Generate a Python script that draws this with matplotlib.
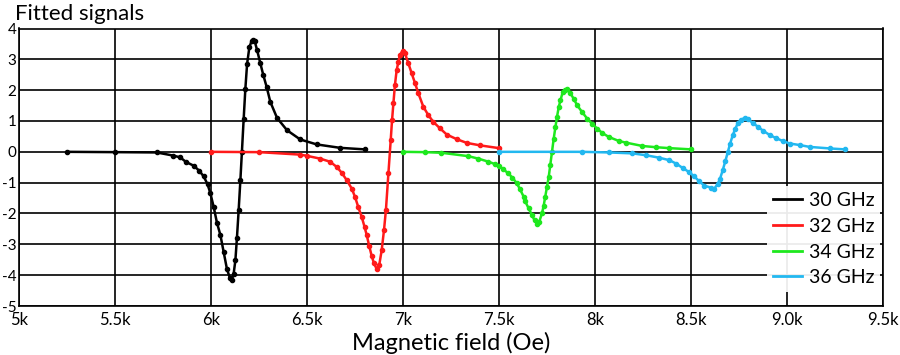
import matplotlib
matplotlib.use("Agg")
import matplotlib.pyplot as plt

# Values (field in Oe, signal in arb. units)
field_30 = [5250, 5500, 5717, 5802, 5840, 5870, 5910, 5940, 5962, 5982, 5997, 6014,
            6031, 6049, 6066, 6083, 6099, 6109, 6118, 6127, 6135, 6144, 6153, 6161,
            6170, 6179, 6188, 6200, 6212, 6220, 6228, 6240, 6257, 6272, 6290, 6309,
            6344, 6396, 6465, 6551, 6672, 6800]
signal_30 = [0.0, -0.01, -0.02, -0.12, -0.18, -0.33, -0.45, -0.62, -0.80, -1.05, -1.35, -1.79,
             -2.30, -2.70, -3.25, -3.80, -4.10, -4.15, -3.95, -3.52, -2.80, -1.90, -0.92, 0.0,
             1.05, 2.05, 2.85, 3.40, 3.60, 3.62, 3.58, 3.30, 2.87, 2.50, 2.10, 1.62,
             1.10, 0.70, 0.40, 0.24, 0.13, 0.08]

field_32 = [6000, 6250, 6464, 6500, 6568, 6620, 6655, 6681, 6707, 6733, 6750, 6767,
            6785, 6800, 6811, 6824, 6837, 6849, 6863, 6876, 6889, 6901, 6911, 6924,
            6936, 6943, 6950, 6958, 6967, 6976, 6984, 6998, 7010, 7028, 7045, 7063,
            7080, 7106, 7132, 7158, 7193, 7228, 7280, 7332, 7401, 7500]
signal_32 = [0.0, -0.01, -0.09, -0.13, -0.22, -0.32, -0.49, -0.68, -0.92, -1.19, -1.46, -1.79,
             -2.11, -2.44, -2.70, -3.05, -3.38, -3.62, -3.80, -3.68, -3.19, -2.54, -1.89, -0.70,
             0.38, 1.03, 1.57, 2.17, 2.65, 2.92, 3.14, 3.28, 3.20, 2.87, 2.55, 2.22,
             1.90, 1.46, 1.19, 0.97, 0.76, 0.56, 0.41, 0.29, 0.21, 0.12]

field_34 = [7000, 7113, 7200, 7340, 7392, 7445, 7480, 7500, 7523, 7549, 7570, 7593,
            7610, 7628, 7637, 7654, 7671, 7685, 7698, 7710, 7724, 7732, 7741, 7750,
            7759, 7767, 7776, 7785, 7794, 7802, 7811, 7820, 7832, 7842, 7855, 7872,
            7889, 7907, 7933, 7959, 7985, 8012, 8038, 8073, 8125, 8160, 8247, 8317,
            8387, 8500]
signal_34 = [0.0, -0.01, -0.03, -0.14, -0.22, -0.32, -0.40, -0.46, -0.57, -0.70, -0.84, -1.02,
             -1.22, -1.45, -1.61, -1.83, -2.04, -2.22, -2.33, -2.26, -1.99, -1.77, -1.45, -1.13,
             -0.81, -0.43, 0.0, 0.43, 0.81, 1.13, 1.45, 1.67, 1.94, 2.01, 2.04, 1.90,
             1.72, 1.51, 1.29, 1.08, 0.91, 0.75, 0.61, 0.48, 0.35, 0.30, 0.19, 0.15,
             0.12, 0.08]

field_36 = [7500, 7934, 8073, 8195, 8265, 8334, 8387, 8422, 8456, 8491, 8517, 8544,
            8570, 8604, 8622, 8639, 8651, 8665, 8679, 8692, 8704, 8718, 8730, 8744,
            8761, 8779, 8796, 8822, 8848, 8874, 8909, 8944, 8979, 9014, 9066, 9118,
            9223, 9300]
signal_36 = [0.0, 0.0, -0.02, -0.05, -0.11, -0.19, -0.27, -0.38, -0.52, -0.66, -0.80, -0.96,
             -1.10, -1.16, -1.19, -1.04, -0.88, -0.60, -0.30, 0.0, 0.27, 0.55, 0.74, 0.93,
             1.04, 1.10, 1.07, 0.93, 0.82, 0.69, 0.55, 0.44, 0.35, 0.27, 0.22, 0.16,
             0.11, 0.08]

labels = ["30 GHz", "32 GHz", "34 GHz", "36 GHz"]
colors = ["#000000", "#ff1a1a", "#1ee81e", "#22b8f0"]

x_ticks = [5000, 5500, 6000, 6500, 7000, 7500, 8000, 8500, 9000, 9500]
x_tick_labels = ["5k", "5.5k", "6k", "6.5k", "7k", "7.5k", "8k", "8.5k", "9.0k", "9.5k"]
y_ticks = [4, 3, 2, 1, 0, -1, -2, -3, -4, -5]

plt.rcParams["font.family"] = ["Lato", "DejaVu Sans"]
plt.rcParams["axes.unicode_minus"] = False

fig = plt.figure(figsize=(9, 3.55), dpi=100)
ax = fig.add_axes([19 / 900, 1 - 306 / 355, 864 / 900, 277.5 / 355])

series = [(field_30, signal_30), (field_32, signal_32),
          (field_34, signal_34), (field_36, signal_36)]
for (fx, sy), lab, col in zip(series, labels, colors):
    ax.plot(fx, sy, color=col, lw=1.8, marker="o", ms=3, label=lab, zorder=3)

ax.set_xlim(5000, 9500)
ax.set_ylim(-5, 4)
ax.set_xticks(x_ticks)
ax.set_xticklabels(x_tick_labels)
ax.set_yticks(y_ticks)
ax.tick_params(length=0)
ax.tick_params(axis="x", labelsize=12, pad=4)
ax.tick_params(axis="y", labelsize=11, pad=2)
ax.grid(True, color="black", lw=1.2)
ax.set_axisbelow(True)
for sp in ax.spines.values():
    sp.set_color("black")
    sp.set_linewidth(1.2)

ax.set_xlabel("Magnetic field (Oe)", fontsize=17, labelpad=3)
fig.text(15 / 900, 1 - 20 / 355, "Fitted signals", fontsize=16, ha="left", va="baseline")

leg = ax.legend(loc="lower right", bbox_to_anchor=(0.997, 0.05), frameon=True,
                fontsize=14, handlelength=1.5, handletextpad=0.35, labelspacing=0.45,
                borderpad=0.3, borderaxespad=0)
leg.get_frame().set_facecolor("white")
leg.get_frame().set_edgecolor("none")
leg.get_frame().set_alpha(0.92)
for h in leg.legend_handles:
    h.set_marker("")
    h.set_linewidth(2)

fig.savefig("out.png", dpi=100)
